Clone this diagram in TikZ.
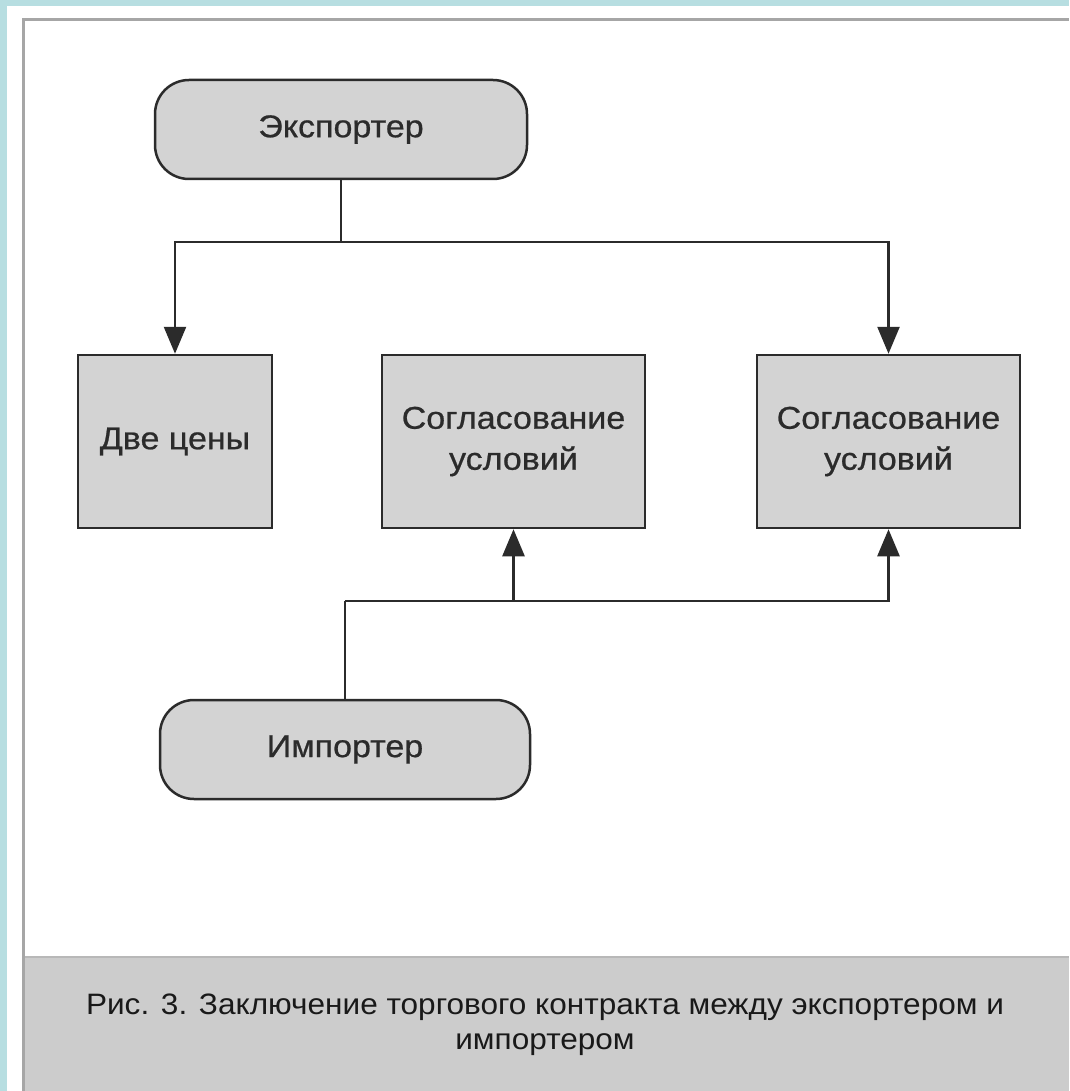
\documentclass[tikz,border=0pt]{standalone}
\usepackage{fontspec}
\setmainfont{Liberation Sans}
\newfontfamily\boxfont[FakeStretch=1.08,FakeBold=0.7]{Liberation Sans}
\newfontfamily\capfont[FakeStretch=1.07]{Liberation Sans}
\usetikzlibrary{arrows.meta}
\definecolor{bgteal}{HTML}{B7DEE1}
\definecolor{capgray}{HTML}{CCCCCC}
\definecolor{framegray}{HTML}{A6A6A6}
\definecolor{nodefill}{HTML}{D3D3D3}
\definecolor{inkdark}{HTML}{2B2B2B}
\tikzset{
  nodetext/.style={font=\boxfont\fontsize{31.5}{41}\selectfont, text=inkdark, align=center},
  terminal/.style={nodetext, draw=inkdark, fill=nodefill, line width=2.5pt, rounded corners=34pt, minimum height=99pt},
  stepbox/.style={nodetext, draw=inkdark, fill=nodefill, line width=2.5pt, minimum height=173pt},
  link/.style={draw=inkdark, line width=2.5pt},
  arrowlink/.style={link, -{Triangle[width=22pt,length=27pt]}},
  captext/.style={font=\capfont\fontsize{29.5}{35}\selectfont, text=black!90, anchor=base}
}
\begin{document}
\begin{tikzpicture}[x=1pt,y=-1pt]
\useasboundingbox (0,0) rectangle (1069,1091);
% background and frame
\fill[bgteal] (0,0) rectangle (1069,1091);
\fill[white] (7,6) rectangle (1069,1091);
\fill[capgray] (23,957) rectangle (1069,1091);
\draw[framegray!80!white, line width=1.2pt] (23,957) -- (1069,957);
\draw[framegray, line width=3pt] (23,1091) -- (23,20) -- (1069,20);

% nodes
\node[terminal, minimum width=372pt] (exp) at (341,129.5) {Экспортер};
\node[stepbox, minimum width=194pt] (box1) at (175,441.5) {Две цены};
\node[stepbox, minimum width=263pt] (box2) at (513.5,441.5) {Согласование\\условий};
\node[stepbox, minimum width=263pt] (box3) at (888.5,441.5) {Согласование\\условий};
\node[terminal, minimum width=370pt] (imp) at (345,749.5) {Импортер};

% connectors
\coordinate (h1) at (0,242);
\coordinate (h2) at (0,601);
\coordinate (j1) at (exp.south |- h1);
\coordinate (j2) at (imp.north |- h2);
\draw[link] (exp.south) -- (j1);
\draw[arrowlink] (j1) -| (box1.north);
\draw[arrowlink] (j1) -| (box3.north);
\draw[link] (imp.north) -- (j2);
\draw[arrowlink] (j2) -| (box2.south);
\draw[arrowlink] (j2) -| (box3.south);

% caption
\node[captext] (cap1) at (545,1014) {Рис. 3. Заключение торгового контракта между экспортером и};
\node[captext] (cap2) at (545,1049) {импортером};
\end{tikzpicture}
\end{document}
